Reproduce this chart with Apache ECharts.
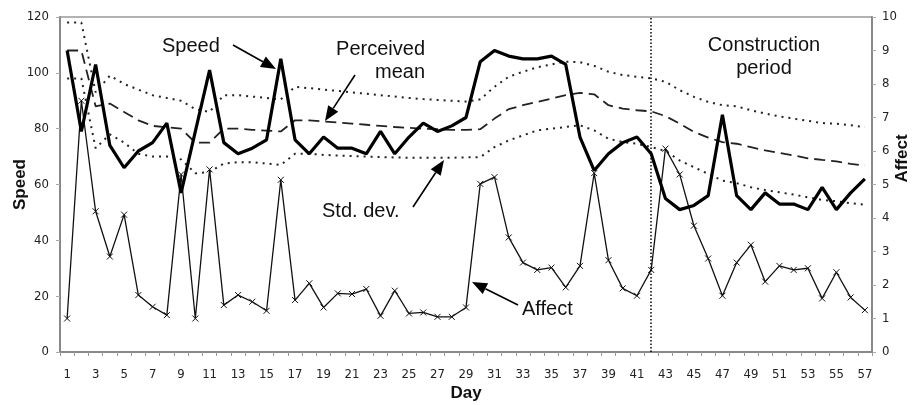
<!DOCTYPE html>
<html>
<head>
<meta charset="utf-8">
<script src="https://cdn.jsdelivr.net/npm/echarts@6/dist/echarts.min.js"></script>
<style>
  html, body { margin: 0; padding: 0; background: #fff; }
  #chart { width: 914px; height: 405px; }
</style>
</head>
<body>
<div id="chart"></div>
<script>
var days = ['1','2','3','4','5','6','7','8','9','10','11','12','13','14','15','16','17','18','19','20',
  '21','22','23','24','25','26','27','28','29','30','31','32','33','34','35','36','37','38','39','40',
  '41','42','43','44','45','46','47','48','49','50','51','52','53','54','55','56','57'];

var speed = [108, 79, 103, 74, 66, 72, 75, 82, 57, 79, 101, 75, 71, 73, 76, 105, 76, 71, 77, 73,
  73, 71, 79, 71, 77, 82, 79, 81, 84, 104, 108, 106, 105, 105, 106, 103, 77, 65, 71, 75,
  77, 71, 55, 51, 52.5, 56, 85, 56, 51, 57, 53, 53, 51, 59, 51, 57, 62];

var perceivedMean = [108, 108, 88, 89, 86, 83, 81, 80.5, 80, 75, 75, 80, 80, 79.6, 79.3, 79, 83, 83, 82.6, 82.2,
  81.8, 81.4, 81, 80.6, 80.3, 80, 79.8, 79.6, 79.6, 79.8, 83.6, 87, 88.4, 89.6, 90.8, 92, 92.8, 92.3, 88.4, 87.2,
  86.6, 86.2, 84.5, 81.8, 78.8, 76.8, 75.2, 74.6, 73.4, 72.2, 71.3, 70.4, 69.4, 68.8, 68.3, 67.4, 66.8];

var stdUpper = [118, 118, 93, 99, 96, 94, 92, 91, 90, 87, 86, 92, 92, 91.5, 91, 90.5, 95, 94.5, 94, 93.5,
  93, 92.5, 92, 91.5, 91, 90.6, 90.3, 90, 89.7, 90.5, 95, 98.6, 100.4, 102, 103, 104, 103.8, 102.5, 100.4, 99.2,
  98.6, 98, 96.8, 93.8, 91.4, 89.6, 88.4, 88, 86.6, 85.4, 84.4, 83.6, 82.8, 82, 81.8, 81.2, 80.6];

var stdLower = [98, 98, 73, 78, 75, 71, 70, 70, 69, 64, 64.5, 67.5, 68, 68, 67.5, 67, 71, 71, 70.6, 70.4,
  70.2, 70, 69.8, 69.7, 69.6, 69.6, 69.6, 69.6, 69.7, 69.8, 73.4, 75.8, 77.6, 79.4, 80, 80.6, 81.2, 79.4, 76.4, 75.2,
  74.6, 73.4, 72, 68.6, 66.2, 63.8, 61.4, 60.5, 59, 58, 57.2, 56.4, 55.4, 54.5, 54, 53.3, 52.8];

var affect = [1.0, 7.5, 4.2, 2.85, 4.1, 1.7, 1.35, 1.1, 5.3, 1.0, 5.45, 1.4, 1.7, 1.5, 1.23, 5.14, 1.55, 2.05, 1.33, 1.75,
  1.73, 1.88, 1.08, 1.83, 1.15, 1.18, 1.05, 1.05, 1.33, 5.02, 5.22, 3.42, 2.67, 2.45, 2.52, 1.93, 2.57, 5.34, 2.74, 1.9,
  1.68, 2.45, 6.07, 5.3, 3.77, 2.79, 1.68, 2.67, 3.2, 2.1, 2.57, 2.45, 2.5, 1.6, 2.38, 1.63, 1.25];

var constructionStart = '42';

var tickFont = "'Liberation Sans Narrow', 'DejaVu Sans Condensed', 'Liberation Sans', sans-serif";
var textFont = "'Liberation Sans', Arial, sans-serif";

// annotation arrow: line plus filled head
function arrow(x1, y1, x2, y2) {
  var a = Math.atan2(y2 - y1, x2 - x1);
  var L = 15, W = 6;
  var bx = x2 - L * Math.cos(a), by = y2 - L * Math.sin(a);
  return [
    { type: 'line', shape: { x1: x1, y1: y1, x2: bx, y2: by }, style: { stroke: '#000', lineWidth: 1.6 } },
    { type: 'polygon', shape: { points: [[x2, y2], [bx - W * Math.sin(a), by + W * Math.cos(a)], [bx + W * Math.sin(a), by - W * Math.cos(a)]] },
      style: { fill: '#000' } }
  ];
}

function label(text, x, y, align) {
  return { type: 'text', x: x, y: y,
    style: { text: text, fill: '#111', font: '20px ' + textFont, align: align || 'left', verticalAlign: 'middle', lineHeight: 23 } };
}

var chart = echarts.init(document.getElementById('chart'));

var option = {
  animation: false,
  backgroundColor: '#fff',
  grid: { left: 60, right: 42, top: 17, bottom: 53, outerBoundsMode: 'none', containLabel: false,
    show: true, borderColor: '#999', borderWidth: 1.5 },
  xAxis: {
    type: 'category',
    data: days,
    name: 'Day',
    nameLocation: 'middle',
    nameGap: 33,
    nameMoveOverlap: false,
    nameTextStyle: { fontFamily: textFont, fontWeight: 'bold', fontSize: 17, color: '#111' },
    axisLine: { lineStyle: { color: '#888', width: 2 } },
    axisTick: { show: true, interval: 0, length: 4, lineStyle: { color: '#999' } },
    axisLabel: { interval: 1, margin: 16, fontFamily: tickFont, fontSize: 13, color: '#222' }
  },
  yAxis: [
    {
      type: 'value', min: 0, max: 120, interval: 20,
      name: 'Speed', nameLocation: 'middle', nameGap: 31, nameRotate: 90, nameMoveOverlap: false,
      nameTextStyle: { fontFamily: textFont, fontWeight: 'bold', fontSize: 17, color: '#111' },
      axisLine: { show: true, lineStyle: { color: '#888', width: 2 } },
      axisTick: { show: true, length: 4, lineStyle: { color: '#aaa' } },
      axisLabel: { margin: 11, fontFamily: tickFont, fontSize: 13, color: '#222' },
      splitLine: { show: false }
    },
    {
      type: 'value', min: 0, max: 10, interval: 1,
      name: 'Affect', nameLocation: 'middle', nameGap: 22, nameRotate: 90, nameMoveOverlap: false,
      nameTextStyle: { fontFamily: textFont, fontWeight: 'bold', fontSize: 17, color: '#111', padding: [0, 0, 0, 52] },
      axisLine: { show: true, lineStyle: { color: '#888', width: 2 } },
      axisTick: { show: true, length: 4, lineStyle: { color: '#aaa' } },
      axisLabel: { margin: 10, fontFamily: tickFont, fontSize: 13, color: '#222' },
      splitLine: { show: false }
    }
  ],
  series: [
    {
      name: 'Std. dev. upper', type: 'line', data: stdUpper, yAxisIndex: 0,
      symbol: 'none', lineStyle: { color: '#222', width: 2, type: [2, 5] }
    },
    {
      name: 'Std. dev. lower', type: 'line', data: stdLower, yAxisIndex: 0,
      symbol: 'none', lineStyle: { color: '#222', width: 2, type: [2, 5] }
    },
    {
      name: 'Perceived mean', type: 'line', data: perceivedMean, yAxisIndex: 0,
      symbol: 'none', lineStyle: { color: '#222', width: 1.8, type: [11, 6] }
    },
    {
      name: 'Affect', type: 'line', data: affect, yAxisIndex: 1,
      symbol: 'path://M0,0L10,10M10,0L0,10', symbolSize: 6, showSymbol: true,
      itemStyle: { color: 'rgba(0,0,0,0)', borderColor: '#111', borderWidth: 1 },
      lineStyle: { color: '#111', width: 1.3 }
    },
    {
      name: 'Speed', type: 'line', data: speed, yAxisIndex: 0,
      symbol: 'none', lineStyle: { color: '#000', width: 3.2 },
      markLine: {
        silent: true, symbol: 'none', label: { show: false },
        lineStyle: { color: '#000', width: 1.5, type: [1.5, 2] },
        data: [{ xAxis: constructionStart }]
      }
    }
  ],
  graphic: [].concat(
    label('Speed', 162, 46),
    arrow(233, 45, 276, 69),
    label('Perceived\nmean', 425, 61, 'right'),
    arrow(355, 75, 325, 121),
    label('Std. dev.', 322, 211),
    arrow(413, 207, 444, 160),
    label('Affect', 522, 309),
    arrow(518, 305, 472, 282),
    label('Construction\nperiod', 764, 57, 'center')
  )
};

chart.setOption(option);
</script>
</body>
</html>
